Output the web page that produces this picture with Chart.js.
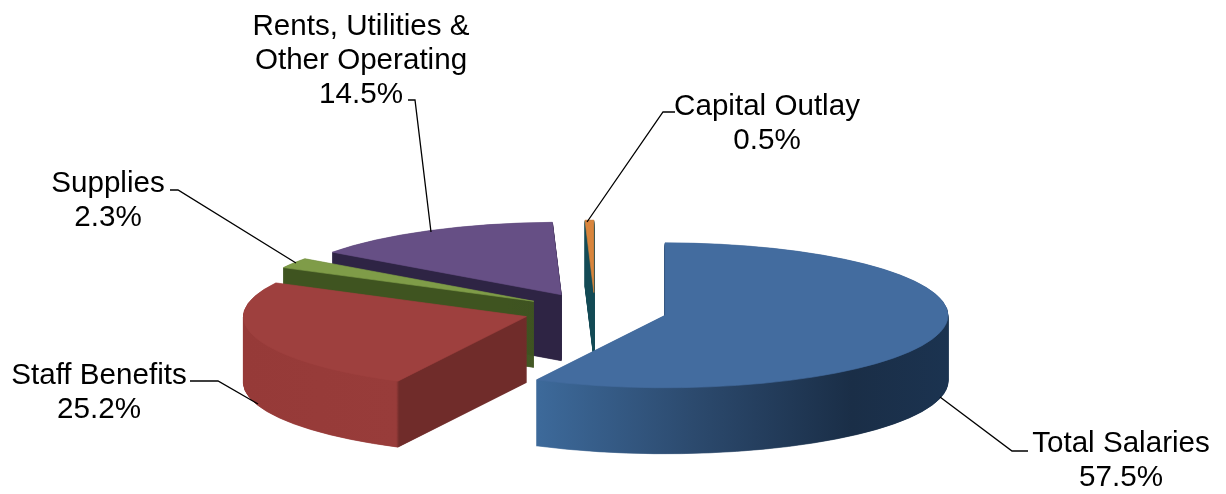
<!DOCTYPE html>
<html>
<head>
<meta charset="utf-8">
<style>
  html, body { margin: 0; background: #fff; }
  canvas { display: block; }
</style>
<script src="https://cdn.jsdelivr.net/npm/chart.js@4"></script>
</head>
<body>
<canvas id="chart" width="1226" height="494"></canvas>
<script>
const categories = ['Total Salaries', 'Staff Benefits', 'Supplies', 'Rents, Utilities &\nOther Operating', 'Capital Outlay'];
const shares = [57.5, 25.2, 2.3, 14.5, 0.5];

const topColors = ['#436c9f', '#9e403e', '#7f9c48', '#664f85', '#d9853c'];
// side wall colours, fraction across the slice's full circle -> colour
const wallStops = [
  [[0.27, '#3d6a9b'], [0.55, '#2c4a6e'], [0.83, '#1a2e47'], [1, '#1b3350']],
  [[0, '#963a38'], [0.27, '#983c3a'], [0.275, '#702c2a'], [1, '#702c2a']],
  [[0, '#3f5420'], [1, '#3f5420']],
  [[0, '#2e2444'], [1, '#2e2444']],
  [[0, '#134a55'], [1, '#134a55']],
];

// label placement: centre x, first baseline y
const labelPos = [
  [1121, 452], [99, 384], [108, 192], [361, 35], [767, 115],
];
const lineHeight = 34;
const leaders = [
  [[1028, 451], [1012, 451], [940, 397]],
  [[190, 381], [218, 381], [258, 404]],
  [[170, 190], [178, 190], [296, 263]],
  [[408, 100], [415, 100], [431, 232]],
  [[675, 112], [663, 112], [587, 222]],
];

const tilt = 0.256;
const depth = 66;
const explode = 72;

// the gradient is applied under the slice's translate, so it is anchored on the unexploded centre
function sliceGradient(ctx, arc, i) {
  const g = ctx.createLinearGradient(arc.x - arc.outerRadius, 0, arc.x + arc.outerRadius, 0);
  wallStops[i].forEach(s => g.addColorStop(s[0], s[1]));
  return g;
}

function drawFlat(ctx, arc, fill, dy) {
  const mid = (arc.startAngle + arc.endAngle) / 2;
  const copy = Object.create(arc);
  copy.options = Object.assign({}, arc.options, { backgroundColor: fill, borderColor: fill, borderWidth: 1 });
  ctx.save();
  ctx.translate(0, arc.y + dy);
  ctx.scale(1, tilt);
  ctx.translate(0, -arc.y);
  ctx.translate(Math.cos(mid) * explode, Math.sin(mid) * explode);
  copy.draw(ctx);
  ctx.restore();
}

const pie3d = {
  id: 'pie3d',
  beforeDatasetDraw(chart, args) {
    const ctx = chart.ctx;
    const arcs = args.meta.data;
    const order = arcs.map((a, i) => i).sort((a, b) =>
      Math.sin((arcs[a].startAngle + arcs[a].endAngle) / 2) - Math.sin((arcs[b].startAngle + arcs[b].endAngle) / 2));
    order.forEach(i => {
      const arc = arcs[i];
      const wall = sliceGradient(ctx, arc, i);
      for (let d = depth; d > 0; d -= 0.5) drawFlat(ctx, arc, wall, d);
      drawFlat(ctx, arc, topColors[i], 0);
    });
    return false;
  },
  afterDraw(chart) {
    const ctx = chart.ctx;
    ctx.save();
    ctx.strokeStyle = '#000';
    ctx.lineWidth = 1.3;
    leaders.forEach(pts => {
      ctx.beginPath();
      pts.forEach((p, n) => n ? ctx.lineTo(p[0], p[1]) : ctx.moveTo(p[0], p[1]));
      ctx.stroke();
    });
    ctx.fillStyle = '#000';
    ctx.font = '29.6px "Liberation Sans"';
    ctx.textAlign = 'center';
    ctx.textBaseline = 'alphabetic';
    categories.forEach((name, i) => {
      const lines = name.split('\n').concat(shares[i].toFixed(1) + '%');
      lines.forEach((t, n) => ctx.fillText(t, labelPos[i][0], labelPos[i][1] + n * lineHeight));
    });
    ctx.restore();
  }
};

new Chart(document.getElementById('chart'), {
  type: 'pie',
  data: {
    labels: categories,
    datasets: [{
      data: shares,
      backgroundColor: topColors,
      borderWidth: 0,
      clip: false
    }]
  },
  options: {
    responsive: false,
    animation: false,
    events: [],
    radius: 283,
    layout: { padding: { left: 0, right: 36, top: 128, bottom: 0 } },
    plugins: { legend: { display: false }, tooltip: { enabled: false } }
  },
  plugins: [pie3d]
});
</script>
</body>
</html>
